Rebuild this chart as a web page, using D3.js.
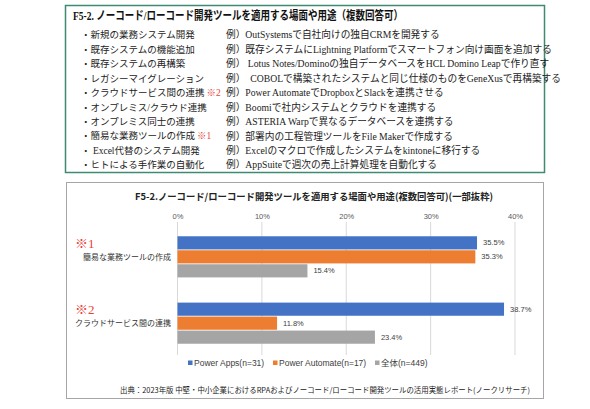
<!DOCTYPE html>
<html>
<head>
<meta charset="utf-8">
<script src="https://cdn.jsdelivr.net/npm/d3@7"></script>
<style>
  body { margin: 0; background: #fff; }
  svg { display: block; }
</style>
</head>
<body>
<div id="chart"></div>
<script>
// top box: use cases and examples
var useCases = ["・新規の業務システム開発", "・既存システムの機能追加", "・既存システムの再構築", "・レガシーマイグレーション",
  "・クラウドサービス間の連携", "・オンプレミス/クラウド連携", "・オンプレミス同士の連携", "・簡易な業務ツールの作成",
  "・ Excel代替のシステム開発", "・ヒトによる手作業の自動化"];
var useCaseNotes = ["", "", "", "", "※2", "", "", "※1", "", ""];
var examples = ["例）OutSystemsで自社向けの独自CRMを開発する",
  "例）既存システムにLightning Platformでスマートフォン向け画面を追加する",
  "例） Lotus Notes/Dominoの独自データベースをHCL Domino Leapで作り直す",
  "例）  COBOLで構築されたシステムと同じ仕様のものをGeneXusで再構築する",
  "例）Power AutomateでDropboxとSlackを連携させる",
  "例）Boomiで社内システムとクラウドを連携する",
  "例）ASTERIA Warpで異なるデータベースを連携する",
  "例）部署内の工程管理ツールをFile Makerで作成する",
  "例）Excelのマクロで作成したシステムをkintoneに移行する",
  "例）AppSuiteで週次の売上計算処理を自動化する"];

// bar chart data
var categories = ["簡易な業務ツールの作成", "クラウドサービス間の連携"];
var categoryNotes = ["※1", "※2"];
var seriesNames = ["Power Apps(n=31)", "Power Automate(n=17)", "全体(n=449)"];
var powerApps = [35.5, 38.7];
var powerAutomate = [35.3, 11.8];
var overall = [15.4, 23.4];
var tickValues = [0, 10, 20, 30, 40];

(function(d3) {
  'use strict';
  var width = 590, height = 409;
  var serif = "'Liberation Serif', 'Noto Sans CJK JP', serif";
  var sans = "'Noto Sans CJK JP', 'Liberation Sans', sans-serif";
  var latinSans = "'Liberation Sans', 'Noto Sans CJK JP', sans-serif";
  var color = d3.scaleOrdinal().domain(seriesNames).range(["#4472c4", "#ed7d31", "#a5a5a5"]);
  var red = "#e8443a";

  var svg = d3.select('#chart').append('svg')
    .attr('width', width)
    .attr('height', height);

  // ---- top box ----
  svg.append('rect')
    .attr('x', 65.5).attr('y', 5.5).attr('width', 479).attr('height', 167)
    .attr('fill', '#fff').attr('stroke', '#3f8a72').attr('stroke-width', 1.5);

  svg.append('text')
    .attr('x', 73).attr('y', 20)
    .attr('font-family', serif).attr('font-size', 12).attr('font-weight', 'bold')
    .attr('fill', '#111')
    .attr('textLength', 330).attr('lengthAdjust', 'spacingAndGlyphs')
    .text('F5-2. ノーコード/ローコード開発ツールを適用する場面や用途（複数回答可）');

  var rowY = d3.scalePoint().domain(d3.range(useCases.length)).range([35, 165]);
  var rows = svg.selectAll('.row')
    .data(useCases)
    .enter().append('g')
    .attr('class', 'row')
    .attr('transform', function(d, i) { return 'translate(0,' + rowY(i) + ')'; });
  var left = rows.append('text')
    .attr('x', 81).attr('dy', '0.35em')
    .attr('font-family', serif).attr('font-size', 9.5).attr('fill', '#222');
  left.append('tspan').text(function(d) { return d; });
  left.append('tspan').attr('fill', red).attr('dx', 2)
    .text(function(d, i) { return useCaseNotes[i]; });
  rows.append('text')
    .attr('x', 226).attr('dy', '0.35em')
    .attr('font-family', serif).attr('font-size', 9.7).attr('fill', '#222')
    .attr('xml:space', 'preserve')
    .text(function(d, i) { return examples[i]; });

  // ---- chart box ----
  svg.append('rect')
    .attr('x', 66.5).attr('y', 182.5).attr('width', 477).attr('height', 216)
    .attr('fill', '#fff').attr('stroke', '#a6a6a6').attr('stroke-width', 1);

  svg.append('text')
    .attr('x', 314).attr('y', 197).attr('dy', '0.35em')
    .attr('text-anchor', 'middle')
    .attr('font-family', sans).attr('font-size', 9.5).attr('font-weight', 'bold')
    .attr('fill', '#222')
    .attr('textLength', 358).attr('lengthAdjust', 'spacingAndGlyphs')
    .text('F5-2.ノーコード/ローコード開発ツールを適用する場面や用途(複数回答可)(一部抜粋)');

  var x = d3.scaleLinear().domain([0, 40]).range([177.5, 515]);
  var gridTop = 222, gridBottom = 355;
  var y0 = d3.scaleBand().domain(categories).range([223, 357]).paddingInner(0.38).paddingOuter(0.2);
  var y1 = d3.scaleBand().domain(seriesNames).range([0, y0.bandwidth()]).paddingInner(0.06);

  // gridlines
  svg.append('g').selectAll('line')
    .data(tickValues)
    .enter().append('line')
    .attr('x1', function(d) { return x(d); })
    .attr('x2', function(d) { return x(d); })
    .attr('y1', gridTop).attr('y2', gridBottom)
    .attr('stroke', '#d9d9d9').attr('stroke-width', 1);

  // top axis
  var axis = svg.append('g')
    .attr('transform', 'translate(0,' + 219 + ')')
    .call(d3.axisTop(x).tickValues(tickValues).tickSize(0).tickPadding(0)
      .tickFormat(function(d) { return d + '%'; }));
  axis.select('.domain').remove();
  axis.selectAll('text')
    .attr('font-family', latinSans).attr('font-size', 7.5).attr('fill', '#595959');

  var series = [powerApps, powerAutomate, overall];
  var groups = svg.selectAll('.grp')
    .data(categories)
    .enter().append('g')
    .attr('class', 'grp')
    .attr('transform', function(d) { return 'translate(0,' + y0(d) + ')'; });

  groups.selectAll('rect')
    .data(function(d, i) {
      return seriesNames.map(function(s, j) { return { name: s, value: series[j][i] }; });
    })
    .enter().append('rect')
    .attr('x', x(0))
    .attr('y', function(d) { return y1(d.name); })
    .attr('width', function(d) { return x(d.value) - x(0); })
    .attr('height', y1.bandwidth())
    .attr('fill', function(d) { return color(d.name); });

  groups.selectAll('.val')
    .data(function(d, i) {
      return seriesNames.map(function(s, j) { return { name: s, value: series[j][i] }; });
    })
    .enter().append('text')
    .attr('class', 'val')
    .attr('x', function(d) { return x(d.value) + 6; })
    .attr('y', function(d) { return y1(d.name) + y1.bandwidth() / 2; })
    .attr('dy', '0.35em')
    .attr('font-family', latinSans).attr('font-size', 7.5).attr('fill', '#404040')
    .text(function(d) { return d.value.toFixed(1) + '%'; });

  // category labels and notes
  groups.append('text')
    .attr('x', 171)
    .attr('y', y0.bandwidth() / 2)
    .attr('dy', '0.35em')
    .attr('text-anchor', 'end')
    .attr('font-family', sans).attr('font-size', 8).attr('fill', '#333')
    .text(function(d) { return d; });
  groups.append('text')
    .attr('x', 75)
    .attr('y', y1(seriesNames[0]) + y1.bandwidth() / 2)
    .attr('dy', '0.38em')
    .attr('font-family', serif).attr('font-size', 13).attr('fill', red)
    .text(function(d, i) { return categoryNotes[i]; });

  // legend
  var legendX = [188, 273, 375];
  var legend = svg.selectAll('.legend')
    .data(seriesNames)
    .enter().append('g')
    .attr('class', 'legend')
    .attr('transform', function(d, i) { return 'translate(' + legendX[i] + ',' + 363 + ')'; });
  legend.append('rect')
    .attr('x', 0).attr('y', -2.5).attr('width', 4.5).attr('height', 4.5)
    .attr('fill', color);
  legend.append('text')
    .attr('x', 6).attr('dy', '0.35em')
    .attr('font-family', latinSans).attr('font-size', 8.5).attr('fill', '#404040')
    .text(function(d) { return d; });

  // source
  svg.append('text')
    .attr('x', 120).attr('y', 390).attr('dy', '0.35em')
    .attr('font-family', sans).attr('font-size', 7.5).attr('fill', '#222')
    .attr('textLength', 410).attr('lengthAdjust', 'spacingAndGlyphs')
    .text('出典：2023年版 中堅・中小企業におけるRPAおよびノーコード/ローコード開発ツールの活用実態レポート(ノークリサーチ)');
})(window.d3);
</script>
</body>
</html>
